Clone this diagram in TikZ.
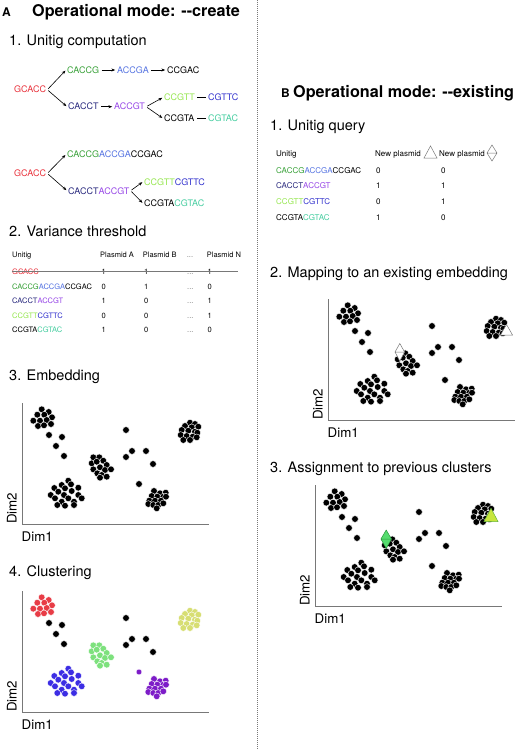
\documentclass[tikz,border=0pt]{standalone}
\usepackage{fontspec}
\setmainfont{TeX Gyre Heros}
\usetikzlibrary{arrows.meta}
\definecolor{sred}{RGB}{232,48,58}
\definecolor{sgreen}{RGB}{55,160,55}
\definecolor{sblue}{RGB}{85,115,225}
\definecolor{snavy}{RGB}{40,40,125}
\definecolor{spurple}{RGB}{150,70,230}
\definecolor{slime}{RGB}{150,230,80}
\definecolor{sdblue}{RGB}{50,50,205}
\definecolor{steal}{RGB}{70,205,160}
\definecolor{kred}{RGB}{232,60,70}
\definecolor{kblue}{RGB}{60,45,228}
\definecolor{kgreen}{RGB}{125,225,125}
\definecolor{kpurple}{RGB}{125,28,200}
\definecolor{kyellow}{RGB}{215,222,115}
\definecolor{mgreen}{RGB}{85,220,110}
\definecolor{mdgreen}{RGB}{40,150,60}
\definecolor{mlime}{RGB}{200,230,60}
\definecolor{axgray}{RGB}{120,120,120}
\def\cTL{41.7/409.3, 48.7/412, 37.3/414.7, 44.3/414.7, 52/417.3, 33.3/420.7, 40/420.7, 46.7/420, 38/426, 44/425.3, 51/424}
\def\cSC{49/435, 62/437, 56/446, 64/456, 126/430, 132/451, 126/457, 146/451, 153/464}
\def\cSP{139/484}
\def\cBL{68.3/480.7, 61.7/485, 71/484.3, 54.3/488, 65/488.3, 78.3/487.7, 58.3/491.7, 71.7/491, 50.7/495, 64/495, 78.3/495, 55/498.3, 68.3/498.3, 81.7/498.3, 61.7/501.7, 74/501.7, 57.3/505, 65/505.7, 74/505}
\def\cMid{93.3/457.3, 99.3/457.3, 103.3/460.7, 91.7/463.3, 96.7/461.7, 106.7/465, 93.3/469.3, 100/467.3, 105/470, 111/469.3, 97.3/473.3, 101.7/475, 106.7/476.7, 100/477.7}
\def\cBR{154/491, 160/493.3, 165.7/492.7, 151.7/496, 157.3/496.7, 163.3/496.7, 149.3/500.7, 155/500.7, 161/500.7, 166/496.7, 148.3/504, 153.3/505, 158.3/505, 156.7/508.3, 163.3/503.3}
\def\cTR{190/422.7, 195/424, 185/426, 191.7/427.3, 198.3/426.7, 181.7/430, 188.3/430.7, 195/431.7, 197.3/432.7, 180.7/435, 186.7/436, 192.7/436.7, 183.3/440, 190/440, 196.7/437.3}
\newcommand\plotdots[2]{\foreach \px/\py in #1 {\fill[#2, draw=white, line width=0.4pt] (\px,\py) circle (3.35);}}
\newcommand\plotaxes[1]{%
  \draw[axgray, line width=0.9pt] (22,403) -- (22,524) -- (209,524);
  \node[dimlab, anchor=base west] (#1x) at (21.5,541.5) {Dim1};
  \node[dimlab, rotate=90, anchor=base west] (#1y) at (16.7,524) {Dim2};}
\begin{document}
\begin{tikzpicture}[x=1pt,y=-1pt,
  seq/.style={font=\fontsize{9}{10}\selectfont, inner sep=1pt, anchor=base west},
  tabA/.style={font=\fontsize{7.5}{9}\selectfont, inner sep=0pt, anchor=base west},
  tabB/.style={font=\fontsize{8}{9}\selectfont, inner sep=0pt, anchor=base west},
  bigtitle/.style={font=\bfseries\fontsize{16.2}{18}\selectfont, inner sep=0pt, anchor=base west},
  letter/.style={font=\bfseries\fontsize{12}{13}\selectfont, inner sep=0pt, anchor=base west},
  subtitle/.style={font=\fontsize{14.5}{16}\selectfont, inner sep=0pt, anchor=base west},
  dimlab/.style={font=\fontsize{13.3}{15}\selectfont, inner sep=0pt},
  arr/.style={-{Stealth[length=3.8pt,width=3pt]}, line width=0.6pt, shorten <=1.2pt, shorten >=0.8pt},
  ln/.style={line width=0.6pt, shorten <=1.5pt, shorten >=1.5pt},
  dotsg/.style={text=axgray}]
\useasboundingbox (0,0) rectangle (520,749);
% divider
\draw[axgray, line width=0.7pt, dash pattern=on 0.7pt off 1.3pt] (257,0) -- (257,749);
% ===== Panel A =====
\node[letter] (lA) at (2,16.5) {A};
\node[bigtitle] (tA) at (32,16.5) {Operational mode: -{}-create};
\node[subtitle] (s1) at (9,46) {1. Unitig computation};
% tree 1
\node[seq, text=sred] (g1) at (13,93) {GCACC};
\node[seq, text=sgreen] (c1) at (66,73.3) {CACCG};
\node[seq, text=sblue] (a1) at (116,73.3) {ACCGA};
\node[seq] (e1) at (166,73.3) {CCGAC};
\node[seq, text=snavy] (t1) at (67,110) {CACCT};
\node[seq, text=spurple] (v1) at (113,110) {ACCGT};
\node[seq, text=slime] (p1) at (163,100.7) {CCGTT};
\node[seq, text=sdblue] (q1) at (207,100.7) {CGTTC};
\node[seq] (r1) at (163,121.7) {CCGTA};
\node[seq, text=steal] (w1) at (207,121.7) {CGTAC};
\draw[arr] (g1.east) -- (c1.west);
\draw[arr] (g1.east) -- (t1.west);
\draw[arr] (c1.east) -- (a1.west);
\draw[arr] (a1.east) -- (e1.west);
\draw[arr] (t1.east) -- (v1.west);
\draw[arr] (v1.east) -- (p1.west);
\draw[arr] (v1.east) -- (r1.west);
\draw[ln] (p1.east) -- (q1.west);
\draw[ln] (r1.east) -- (w1.west);
% tree 2
\node[seq, text=sred] (g2) at (13,176.7) {GCACC};
\node[seq] (c2) at (66,157.7) {\textcolor{sgreen}{CACCG}\textcolor{sblue}{ACCGA}CCGAC};
\node[seq] (t2) at (67,194) {\textcolor{snavy}{CACCT}\textcolor{spurple}{ACCGT}};
\node[seq] (p2) at (143,185) {\textcolor{slime}{CCGTT}\textcolor{sdblue}{CGTTC}};
\node[seq] (r2) at (143,206.7) {CCGTA\textcolor{steal}{CGTAC}};
\draw[arr] (g2.east) -- (c2.west);
\draw[arr] (g2.east) -- (t2.west);
\draw[arr] (t2.east) -- (p2.west);
\draw[arr] (t2.east) -- (r2.west);
% variance threshold table
\node[subtitle] (s2) at (9,236) {2. Variance threshold};
\node[tabA] (ha0) at (12,257) {Unitig};
\node[tabA] (ha1) at (100,257) {Plasmid A};
\node[tabA] (ha2) at (142.7,257) {Plasmid B};
\node[tabA, dotsg] (ha3) at (186.7,257) {...};
\node[tabA] (ha4) at (206.7,257) {Plasmid N};
\foreach \yy/\sq/\va/\vb/\vn [count=\i] in {
  274.3/{\textcolor{sred}{GCACC}}/1/1/1,
  289.3/{\textcolor{sgreen}{CACCG}\textcolor{sblue}{ACCGA}CCGAC}/0/1/0,
  303.5/{\textcolor{snavy}{CACCT}\textcolor{spurple}{ACCGT}}/1/0/1,
  318/{\textcolor{slime}{CCGTT}\textcolor{sdblue}{CGTTC}}/0/0/1,
  332/{CCGTA\textcolor{steal}{CGTAC}}/1/0/0}{
  \node[tabA] (ra\i) at (12,\yy) {\sq};
  \node[tabA] (va\i) at (101.5,\yy) {\va};
  \node[tabA] (vb\i) at (144,\yy) {\vb};
  \node[tabA, dotsg] (vd\i) at (187,\yy) {...};
  \node[tabA] (vn\i) at (207.5,\yy) {\vn};
}
\draw[axgray, line width=0.6pt] (11.7,271.3) -- (238.3,271.3);
% embedding
\node[subtitle] (s3) at (9,380) {3. Embedding};
\plotaxes{pA}
\plotdots{\cTL}{black}
\plotdots{\cSC}{black}
\plotdots{\cSP}{black}
\plotdots{\cBL}{black}
\plotdots{\cMid}{black}
\plotdots{\cBR}{black}
\plotdots{\cTR}{black}
% clustering
\node[subtitle] (s4) at (9,576) {4. Clustering};
\begin{scope}[shift={(0,188)}]
\plotaxes{pB}
\plotdots{\cTL}{kred}
\plotdots{\cSC}{black}
\plotdots{\cBL}{kblue}
\plotdots{\cMid}{kgreen}
\plotdots{\cBR}{kpurple}
\plotdots{\cTR}{kyellow}
\fill[kpurple, draw=white, line width=0.4pt] (139,484) circle (2.9);
\end{scope}
% ===== Panel B =====
\node[letter] (lB) at (281,97.5) {B};
\node[bigtitle] (tB) at (293,97.5) {Operational mode: -{}-existing};
\node[subtitle] (s5) at (270,131) {1. Unitig query};
\node[tabB] (hb0) at (276,156) {Unitig};
\node[tabB] (hb1) at (375,156) {New plasmid};
\node[tabB] (hb2) at (439,156) {New plasmid};
\draw[axgray, line width=0.5pt] (424,158) -- (437,158) -- (430.5,146) -- cycle;
\draw[axgray, line width=0.5pt] (492,145) -- (497,153) -- (492,161) -- (487,153) -- cycle (487,153) -- (497,153);
\foreach \yy/\sq/\va/\vb [count=\i] in {
  173.5/{\textcolor{sgreen}{CACCG}\textcolor{sblue}{ACCGA}CCGAC}/0/0,
  188.5/{\textcolor{snavy}{CACCT}\textcolor{spurple}{ACCGT}}/1/1,
  204/{\textcolor{slime}{CCGTT}\textcolor{sdblue}{CGTTC}}/0/1,
  220/{CCGTA\textcolor{steal}{CGTAC}}/1/0}{
  \node[tabB] (rb\i) at (276,\yy) {\sq};
  \node[tabB] (ua\i) at (376,\yy) {\va};
  \node[tabB] (ub\i) at (441,\yy) {\vb};
}
% mapping
\node[subtitle] (s6) at (270,277) {2. Mapping to an existing embedding};
\begin{scope}[shift={(306,-104)}]
\plotaxes{pC}
\plotdots{\cTL}{black}
\plotdots{\cSC}{black}
\plotdots{\cSP}{black}
\plotdots{\cBL}{black}
\plotdots{\cMid}{black}
\plotdots{\cBR}{black}
\plotdots{\cTR}{black}
\draw[axgray, fill=white, line width=0.5pt] (194.5,439) -- (206.5,439) -- (200.5,428.5) -- cycle;
\draw[axgray, fill=white, line width=0.5pt] (93.8,447.5) -- (98.6,456) -- (93.8,465) -- (89,456) -- cycle (89,456) -- (98.6,456);
\end{scope}
% assignment
\node[subtitle] (s7) at (270,472) {3. Assignment to previous clusters};
\begin{scope}[shift={(293,82)}]
\plotaxes{pD}
\plotdots{\cTL}{black}
\plotdots{\cSC}{black}
\plotdots{\cSP}{black}
\plotdots{\cBL}{black}
\plotdots{\cMid}{black}
\plotdots{\cBR}{black}
\plotdots{\cTR}{black}
\draw[mdgreen!60!mlime, fill=mlime, line width=0.5pt] (191,439.5) -- (205,439.5) -- (198,426.3) -- cycle;
\draw[mdgreen, fill=mgreen, line width=0.5pt] (93.2,448) -- (98.5,457) -- (93.2,466.3) -- (87.9,457) -- cycle (87.9,457) -- (98.5,457);
\end{scope}
\end{tikzpicture}
\end{document}
